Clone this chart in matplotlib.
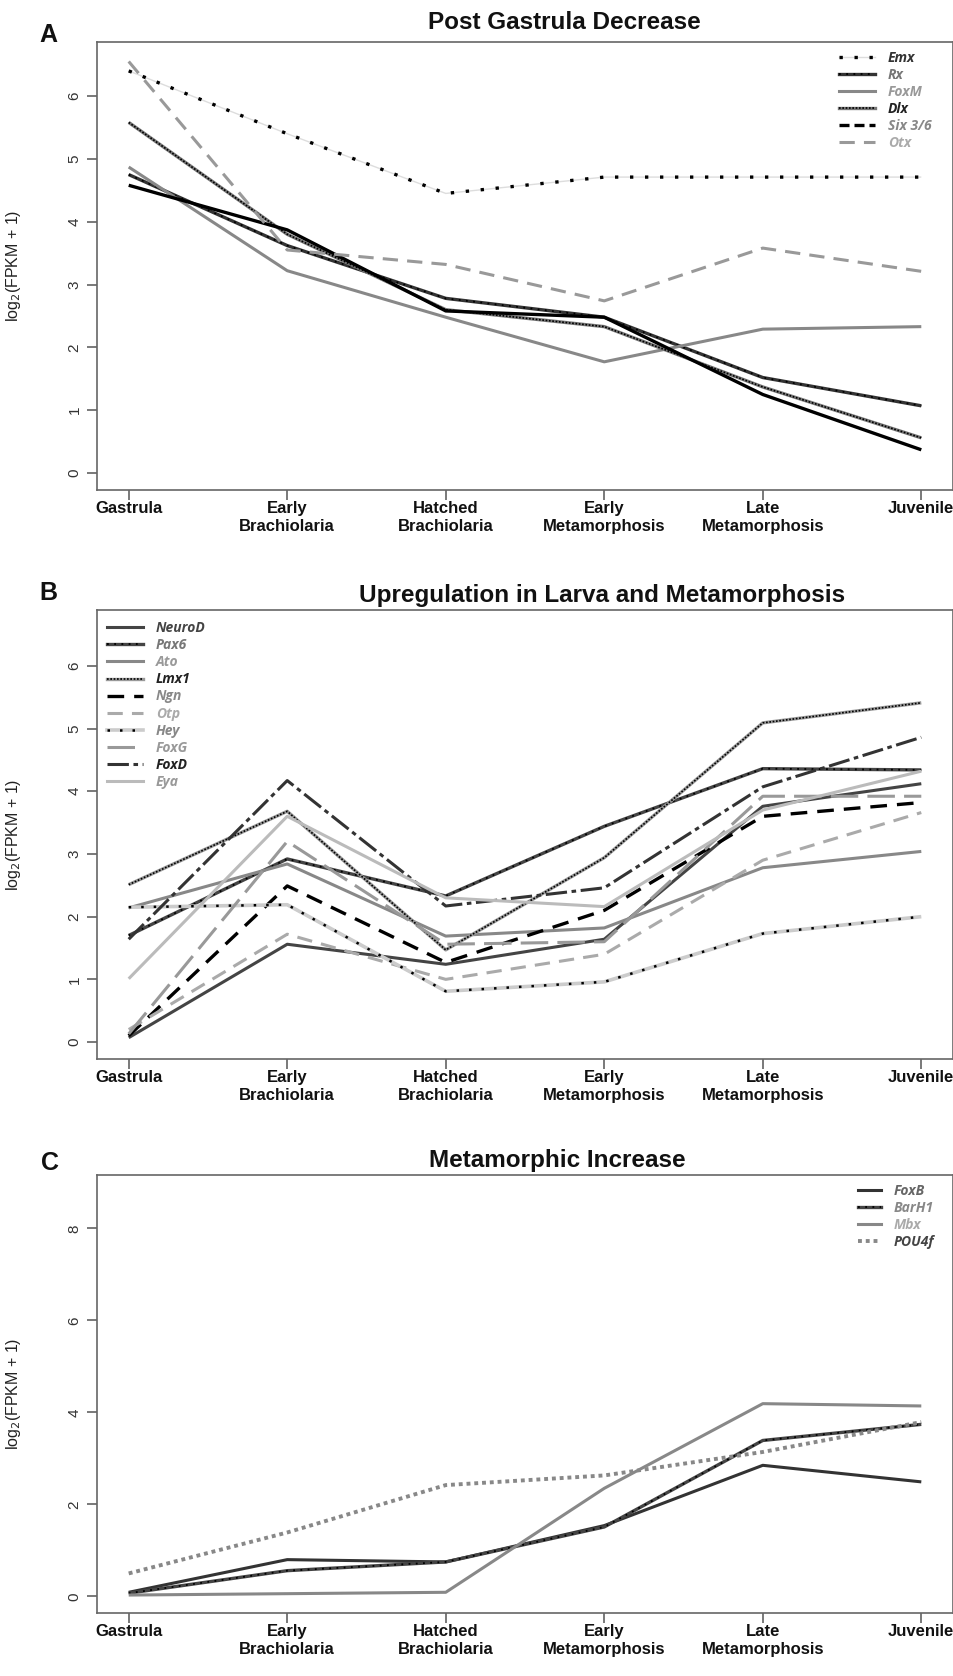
import matplotlib
matplotlib.use('Agg')
import matplotlib.pyplot as plt

plt.rcParams['font.family'] = ['Liberation Sans', 'DejaVu Sans']

W, H = 954, 1676

stages = ['Gastrula', 'Early\nBrachiolaria', 'Hatched\nBrachiolaria',
          'Early\nMetamorphosis', 'Late\nMetamorphosis', 'Juvenile']

# Panel A - post gastrula decrease
a_genes = ['Emx', 'Rx', 'FoxM', 'Dlx', 'Six 3/6', 'Otx']
emx = [6.40, 5.40, 4.45, 4.71, 4.71, 4.71]
rx = [4.75, 3.62, 2.78, 2.48, 1.52, 1.07]
foxm = [4.87, 3.22, 2.48, 1.77, 2.29, 2.33]
dlx = [5.58, 3.80, 2.60, 2.33, 1.37, 0.56]
six36 = [4.58, 3.87, 2.58, 2.48, 1.25, 0.37]
otx = [6.55, 3.55, 3.32, 2.74, 3.58, 3.21]

# Panel B - upregulation in larva and metamorphosis
b_genes = ['NeuroD', 'Pax6', 'Ato', 'Lmx1', 'Ngn', 'Otp', 'Hey', 'FoxG', 'FoxD', 'Eya']
neurod = [0.07, 1.56, 1.24, 1.64, 3.76, 4.12]
pax6 = [1.70, 2.92, 2.33, 3.44, 4.36, 4.34]
ato = [2.14, 2.84, 1.69, 1.82, 2.78, 3.04]
lmx1 = [2.51, 3.68, 1.47, 2.94, 5.09, 5.41]
ngn = [0.10, 2.49, 1.27, 2.10, 3.60, 3.82]
otp = [0.20, 1.72, 1.00, 1.40, 2.90, 3.66]
hey = [2.15, 2.19, 0.81, 0.96, 1.73, 2.00]
foxg = [0.13, 3.20, 1.56, 1.60, 3.92, 3.92]
foxd = [1.64, 4.17, 2.17, 2.46, 4.07, 4.86]
eya = [1.01, 3.60, 2.30, 2.16, 3.70, 4.32]

# Panel C - metamorphic increase
c_genes = ['FoxB', 'BarH1', 'Mbx', 'POU4f']
foxb = [0.09, 0.80, 0.75, 1.54, 2.85, 2.49]
barh1 = [0.07, 0.56, 0.75, 1.51, 3.39, 3.74]
mbx = [0.03, 0.06, 0.09, 2.35, 4.19, 4.14]
pou4f = [0.50, 1.39, 2.42, 2.63, 3.14, 3.79]

# line styles: each gene is a stack of layers (base line + optional dots on top)
DOTS = dict(color='black', lw=1.3, ls=(0, (1, 3)))
FINE = dict(color='black', lw=1.2, ls=(0, (1, 1)))
styles = {
    'Emx': [dict(color='#dddddd', lw=1.0), dict(color='black', lw=2.4, ls=(0, (1, 3.5)))],
    'Rx': [dict(color='#333333', lw=2.4), DOTS],
    'FoxM': [dict(color='#888888', lw=2.2)],
    'Dlx': [dict(color='#777777', lw=2.4), FINE],
    'Six 3/6': [dict(color='black', lw=2.4)],
    'Otx': [dict(color='#999999', lw=2.2, ls=(0, (5, 3)))],
    'NeuroD': [dict(color='#444444', lw=2.2)],
    'Pax6': [dict(color='#444444', lw=2.4), DOTS],
    'Ato': [dict(color='#888888', lw=2.2)],
    'Lmx1': [dict(color='#999999', lw=2.4), FINE],
    'Ngn': [dict(color='black', lw=2.4, ls=(0, (5, 3)))],
    'Otp': [dict(color='#aaaaaa', lw=2.2, ls=(0, (5, 3)))],
    'Hey': [dict(color='#cccccc', lw=2.6), dict(color='black', lw=1.8, ls=(0, (1, 4)))],
    'FoxG': [dict(color='#999999', lw=2.2, ls=(0, (9, 3)))],
    'FoxD': [dict(color='#333333', lw=2.2, ls=(0, (7, 1.5, 1.5, 1.5)))],
    'Eya': [dict(color='#bbbbbb', lw=2.2)],
    'FoxB': [dict(color='#333333', lw=2.2)],
    'BarH1': [dict(color='#444444', lw=2.4), DOTS],
    'Mbx': [dict(color='#888888', lw=2.2)],
    'POU4f': [dict(color='#888888', lw=2.8, ls=(0, (1, 1)))],
}
legend_override = {'Six 3/6': [dict(color='black', lw=2.4, ls=(0, (3, 1.5)))]}

label_colors = {
    'Emx': '#333333', 'Rx': '#777777', 'FoxM': '#999999', 'Dlx': '#222222',
    'Six 3/6': '#888888', 'Otx': '#aaaaaa',
    'NeuroD': '#444444', 'Pax6': '#777777', 'Ato': '#999999', 'Lmx1': '#222222',
    'Ngn': '#888888', 'Otp': '#aaaaaa', 'Hey': '#888888', 'FoxG': '#999999',
    'FoxD': '#222222', 'Eya': '#999999',
    'FoxB': '#666666', 'BarH1': '#888888', 'Mbx': '#aaaaaa', 'POU4f': '#444444',
}


def px_box(left, top, right, bottom):
    return [left / W, 1 - bottom / H, (right - left) / W, (bottom - top) / H]


def panel(ax, genes, series, ylim, yticks, legend_loc, legend_anchor, handlelen):
    x = list(range(len(stages)))
    handles = []
    for g, y in zip(genes, series):
        for kw in styles[g]:
            ax.plot(x, y, solid_capstyle='butt', dash_capstyle='butt', **kw)
        layers = legend_override.get(g, styles[g])
        hs = tuple(plt.Line2D([], [], **kw) for kw in layers)
        handles.append(hs)
    ax.set_xlim(-0.2, 5.2)
    ax.set_ylim(*ylim)
    ax.set_xticks(x)
    ax.set_xticklabels(stages, fontsize=12, fontweight='bold', color='#111111')
    ax.set_yticks(yticks)
    ax.set_yticklabels([str(t) for t in yticks], rotation=90, va='center',
                       fontsize=11, color='#333333')
    ax.tick_params(axis='both', direction='out', length=7, width=1.1, color='#555555')
    ax.tick_params(axis='x', pad=1)
    ax.tick_params(axis='y', pad=4)
    for s in ax.spines.values():
        s.set_color('#666666')
        s.set_linewidth(1.2)
    ax.set_ylabel(r'log$_2$(FPKM + 1)', fontsize=11.5, color='#222222')
    ax.yaxis.set_label_coords(-0.086, 0.5)
    leg = ax.legend(handles, genes, loc=legend_loc, bbox_to_anchor=legend_anchor,
                    frameon=False, handlelength=handlelen, labelspacing=0.22,
                    handletextpad=0.9, borderaxespad=0, borderpad=0,
                    prop=dict(family=['Open Sans', 'DejaVu Sans'], weight='bold',
                              style='italic', size=10))
    for t, g in zip(leg.get_texts(), genes):
        t.set_color(label_colors[g])


fig = plt.figure(figsize=(W / 100, H / 100), dpi=100)

axA = fig.add_axes(px_box(97, 42, 953, 490))
panel(axA, a_genes, [emx, rx, foxm, dlx, six36, otx], (-0.27, 6.86), range(0, 7),
      'upper right', (0.975, 0.98), 2.6)

axB = fig.add_axes(px_box(97, 610, 953, 1059))
panel(axB, b_genes, [neurod, pax6, ato, lmx1, ngn, otp, hey, foxg, foxd, eya],
      (-0.27, 6.89), range(0, 7), 'upper left', (0.012, 0.975), 2.6)

axC = fig.add_axes(px_box(97, 1175, 953, 1613))
panel(axC, c_genes, [foxb, barh1, mbx, pou4f], (-0.36, 9.16), range(0, 9, 2),
      'upper right', (0.978, 0.98), 1.7)

titles = [('Post Gastrula Decrease', 564, 29, 'A', 48, 42),
          ('Upregulation in Larva and Metamorphosis', 602, 602, 'B', 48, 600),
          ('Metamorphic Increase', 557, 1167, 'C', 50, 1170)]
for text, tx, ty, letter, lx, ly in titles:
    fig.text(tx / W, 1 - ty / H, text, ha='center', va='baseline',
             fontsize=17.5, fontweight='bold', color='#111111')
    fig.text(lx / W, 1 - ly / H, letter, ha='center', va='baseline',
             fontsize=18, fontweight='bold', color='#111111')

fig.savefig('out.png', dpi=100, facecolor='white')
